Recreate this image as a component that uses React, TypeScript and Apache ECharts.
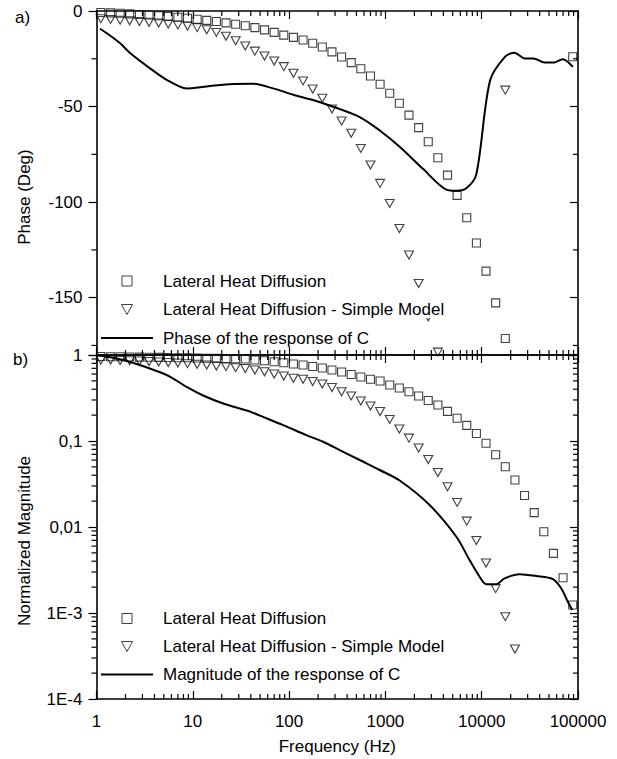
import React, { useEffect, useRef } from "react";
import * as echarts from "echarts";

// Frequencies (Hz) of the model points
const FREQ = [
  1.11, 1.4, 1.76, 2.21, 2.79, 3.51, 4.42, 5.56, 7.0, 8.81,
  11.09, 13.96, 17.58, 22.13, 27.86, 35.07, 44.15, 55.58, 69.98, 88.1,
  110.9, 139.6, 175.8, 221.3, 278.6, 350.7, 441.5, 555.8, 699.8, 881,
  1109, 1396, 1758, 2213, 2786, 3507, 4415, 5558, 6998, 8810,
  11090, 13960, 17580, 22130, 27860, 35070, 44150, 55580, 69980, 88100,
];

// a) Phase (deg)
const PHASE_LHD = [
  -0.8, -1.0, -1.2, -1.5, -1.8, -2.1, -2.5, -2.9, -3.3, -3.8,
  -4.3, -4.9, -5.5, -6.2, -6.9, -7.7, -8.7, -9.9, -11.2, -12.6,
  -13.8, -15.2, -16.9, -18.8, -21.4, -24.1, -27, -30.2, -34, -38.3,
  -43, -48.3, -54.5, -61, -68.4, -76.8, -85.9, -96.5, -108.2, -121.4,
  -136.1, -152.7, -171.4, null, null, null, null, null, null, -23.9,
];
const PHASE_SIMPLE = [
  -4.0, -4.4, -4.8, -5.1, -5.5, -5.9, -6.3, -6.8, -7.3, -7.9,
  -8.7, -9.8, -11.2, -13.2, -15.6, -18.3, -21.0, -23.6, -26.2, -29.1,
  -32.6, -36.6, -40.8, -45.7, -51.3, -57.6, -64, -71.9, -80.6, -90.2,
  -100.7, -113.8, -127.7, -142.6, -160, -178.5, null, null, null, null,
  null, null, -41.4, null, null, null, null, null, null, null,
];
const PHASE_C_FREQ = [
  1.09, 1.38, 1.75, 2.23, 3.59, 5.35, 8.63, 13.9, 26.1, 42, 68.2, 110, 177, 286, 541, 873,
  1406, 2455, 4295, 5456, 6918, 8790, 12190, 17500, 21900, 27900, 34500, 44900, 57000, 69500, 88300,
];
const PHASE_C = [
  -9.3, -12.8, -16.8, -22, -30, -36, -40.5, -39.5, -38.2, -38.1, -40.5, -43.8, -46.6, -50.1, -55.5, -62.5,
  -71, -82.6, -93.5, -94.1, -92.8, -85.5, -36.5, -23.9, -21.8, -24.8, -24.8, -27, -26.9, -25.2, -29.2,
];

// b) Normalized magnitude
const MAG_LHD = [
  0.961, 0.955, 0.953, 0.948, 0.945, 0.943, 0.938, 0.935, 0.93, 0.928,
  0.923, 0.918, 0.913, 0.908, 0.903, 0.899, 0.875, 0.858, 0.836, 0.814,
  0.786, 0.765, 0.735, 0.706, 0.669, 0.634, 0.593, 0.555, 0.522, 0.498,
  0.448, 0.413, 0.374, 0.334, 0.296, 0.262, 0.221, 0.184, 0.152, 0.122,
  0.094, 0.0693, 0.0502, 0.0352, 0.0232, 0.0147, 0.00882, 0.00494, 0.00257, 0.00124,
];
const MAG_SIMPLE = [
  0.875, 0.875, 0.863, 0.858, 0.852, 0.84, 0.829, 0.818, 0.807, 0.792,
  0.78, 0.765, 0.745, 0.731, 0.712, 0.697, 0.669, 0.639, 0.601, 0.57,
  0.536, 0.522, 0.492, 0.46, 0.419, 0.374, 0.334, 0.292, 0.255, 0.22,
  0.178, 0.138, 0.108, 0.0829, 0.0609, 0.043, 0.0294, 0.0193, 0.0117, 0.00697,
  0.00381, 0.00192, 0.000906, 0.000381, null, null, null, null, null, null,
];
const MAG_C_FREQ = [
  1, 1.62, 2.61, 4.21, 5.78, 8.63, 12.8, 20.7, 39.1, 49.7, 86.7, 151, 225, 336, 541, 873,
  1406, 2880, 5456, 7480, 9510, 11160, 14170, 17290, 24740, 36830, 54800, 66900, 78400, 87100,
];
const MAG_C = [
  1, 0.911, 0.786, 0.652, 0.562, 0.425, 0.338, 0.273, 0.22, 0.197, 0.153, 0.117, 0.098, 0.0785, 0.0601, 0.046,
  0.0347, 0.018, 0.0077, 0.00413, 0.00264, 0.00216, 0.00216, 0.00253, 0.00282, 0.00269, 0.00248, 0.00194, 0.00135, 0.00108,
];

// tick labels
const X_TICK_LABELS = ["1", "10", "100", "1000", "10000", "100000"];
const Y_LOG_LABELS = ["1E-4", "1E-3", "0,01", "0,1", "1"];

const NAME_LHD = "Lateral Heat Diffusion";
const NAME_SIMPLE = "Lateral Heat Diffusion - Simple Model";
const NAME_PHASE = "Phase of the response of C";
const NAME_MAG = "Magnitude of the response of C";

const FONT = "Liberation Sans, Arial, sans-serif";
const FS = 17;
const TRI = "path://M0,0L10,0L5,9Z";
const SQ = "path://M0,0L10,0L10,10L0,10Z";
const LINE_ICON = "path://M0,0L52,0L52,2L0,2Z";

function pairs(xs: number[], ys: (number | null)[]) {
  const out: number[][] = [];
  xs.forEach((x, i) => {
    const y = ys[i];
    if (y !== null && y !== undefined) out.push([x, y]);
  });
  return out;
}

const X_MINOR: number[] = [];
[1, 10, 100, 1000, 10000].forEach((d) => {
  for (let m = 2; m <= 9; m++) X_MINOR.push(d * m);
});
const Y_MINOR_LOG: number[] = [];
[1e-4, 1e-3, 1e-2, 1e-1].forEach((d) => {
  for (let m = 2; m <= 9; m++) Y_MINOR_LOG.push(d * m);
});
const Y_MINOR_LIN = [-25, -75, -125, -175];

const MINOR_LEN = 5;
const MAJOR_LEN = 8;

function tickSeries(xi: number, yi: number, data: number[][]) {
  return {
    type: "custom",
    xAxisIndex: xi,
    yAxisIndex: yi,
    silent: true,
    clip: false,
    z: 5,
    data,
    renderItem: (params: any, api: any) => {
      const p = api.coord([api.value(0), api.value(1)]);
      const k = api.value(2);
      let x2 = p[0];
      let y2 = p[1];
      if (k === 0) y2 = p[1] - MINOR_LEN;
      else if (k === 1) y2 = p[1] + MINOR_LEN;
      else x2 = p[0] - MINOR_LEN;
      return {
        type: "line",
        shape: { x1: p[0], y1: p[1], x2, y2 },
        style: { stroke: "#000", lineWidth: 1.2 },
      };
    },
  };
}

export default function App() {
  const ref = useRef<HTMLDivElement>(null);
  useEffect(() => {
    if (!ref.current) return;
    const chart = echarts.init(ref.current, null, { renderer: "svg" });
    const axisLine = { show: true, onZero: false, lineStyle: { color: "#000", width: 1.6 } };
    const tickIn = { show: true, inside: true, length: MAJOR_LEN, lineStyle: { color: "#000", width: 1.2 } };
    const tickOut = { show: true, inside: false, length: MAJOR_LEN, lineStyle: { color: "#000", width: 1.2 } };
    const lbl = { color: "#000", fontFamily: FONT, fontSize: FS };
    const xLog = { type: "log", logBase: 10, min: 1, max: 100000, splitLine: { show: false } };
    const symItem = { color: "rgba(0,0,0,0)", borderColor: "#111", borderWidth: 1 };
    const legendBase = {
      orient: "vertical",
      left: 96,
      itemWidth: 52,
      itemHeight: 10,
      selectedMode: false,
      textStyle: {
        color: "#000",
        fontFamily: FONT,
        fontSize: FS,
        backgroundColor: "#fff",
        padding: [0, 2, 0, 5],
      },
    };
    const scatterStyle = { color: "rgba(0,0,0,0)", borderColor: "#111", borderWidth: 1.1 };

    const option: any = {
      animation: false,
      backgroundColor: "#fff",
      grid: [
        { left: 96.5, top: 11, width: 481.5, height: 344 },
        { left: 96.5, top: 355, width: 481.5, height: 344 },
      ],
      xAxis: [
        { ...xLog, gridIndex: 0, position: "bottom", axisLine, axisTick: tickIn, axisLabel: { show: false } },
        { ...xLog, gridIndex: 0, position: "top", axisLine, axisTick: tickIn, axisLabel: { show: false } },
        {
          ...xLog,
          gridIndex: 1,
          position: "bottom",
          axisLine,
          axisTick: tickIn,
          axisLabel: {
            ...lbl,
            margin: 14,
            formatter: (v: number) => X_TICK_LABELS[Math.round(Math.log10(v))] ?? "",
          },
          name: "Frequency (Hz)",
          nameLocation: "middle",
          nameGap: 39,
          nameTextStyle: { ...lbl },
        },
        { ...xLog, gridIndex: 1, position: "top", axisLine, axisTick: tickIn, axisLabel: { show: false } },
      ],
      yAxis: [
        {
          type: "value",
          gridIndex: 0,
          position: "left",
          min: -180,
          max: 0,
          splitNumber: 4,
          splitLine: { show: false },
          axisLine,
          axisTick: tickOut,
          axisLabel: {
            ...lbl,
            margin: 14,
            formatter: (v: number) => (v <= -179 ? "" : String(v)),
          },
          name: "Phase (Deg)",
          nameLocation: "middle",
          nameRotate: 90,
          nameGap: 64,
          nameTextStyle: { ...lbl, padding: [0, 28, 0, 0] },
        },
        {
          type: "value",
          gridIndex: 0,
          position: "right",
          min: -180,
          max: 0,
          splitNumber: 4,
          splitLine: { show: false },
          axisLine,
          axisTick: tickIn,
          axisLabel: { show: false },
        },
        {
          type: "log",
          logBase: 10,
          gridIndex: 1,
          position: "left",
          min: 0.0001,
          max: 1,
          splitLine: { show: false },
          axisLine,
          axisTick: tickOut,
          axisLabel: {
            ...lbl,
            margin: 14,
            formatter: (v: number) => Y_LOG_LABELS[Math.round(Math.log10(v)) + 4] ?? "",
          },
          name: "Normalized Magnitude",
          nameLocation: "middle",
          nameRotate: 90,
          nameGap: 64,
          nameTextStyle: { ...lbl, padding: [0, 28, 0, 0] },
        },
        {
          type: "log",
          logBase: 10,
          gridIndex: 1,
          position: "right",
          min: 0.0001,
          max: 1,
          splitLine: { show: false },
          axisLine,
          axisTick: tickIn,
          axisLabel: { show: false },
        },
      ],
      legend: [
        {
          ...legendBase,
          top: 267.5,
          itemGap: 11.5,
          data: [
            { name: NAME_LHD, icon: SQ, itemStyle: symItem },
            { name: NAME_SIMPLE, icon: TRI, itemStyle: symItem },
            { name: NAME_PHASE, icon: LINE_ICON },
          ],
        },
        {
          ...legendBase,
          top: 605,
          itemGap: 11,
          data: [
            { name: NAME_LHD, icon: SQ, itemStyle: symItem },
            { name: NAME_SIMPLE, icon: TRI, itemStyle: symItem },
            { name: NAME_MAG, icon: LINE_ICON },
          ],
        },
      ],
      graphic: [
        { type: "text", left: 15, top: 9, style: { text: "a)", fill: "#000", font: `${FS}px ${FONT}` } },
        { type: "text", left: 13, top: 351, style: { text: "b)", fill: "#000", font: `${FS}px ${FONT}` } },
      ],
      series: [
        {
          name: NAME_LHD,
          type: "scatter",
          xAxisIndex: 0,
          yAxisIndex: 0,
          symbol: "rect",
          symbolSize: 8,
          itemStyle: scatterStyle,
          data: pairs(FREQ, PHASE_LHD),
        },
        {
          name: NAME_SIMPLE,
          type: "scatter",
          xAxisIndex: 0,
          yAxisIndex: 0,
          symbol: TRI,
          symbolSize: [9, 8],
          itemStyle: scatterStyle,
          data: pairs(FREQ, PHASE_SIMPLE),
        },
        {
          name: NAME_PHASE,
          type: "line",
          xAxisIndex: 0,
          yAxisIndex: 0,
          symbol: "none",
          showSymbol: false,
          smooth: 0.3,
          lineStyle: { color: "#000", width: 2 },
          itemStyle: { color: "#000" },
          data: pairs(PHASE_C_FREQ, PHASE_C),
        },
        {
          name: NAME_LHD,
          type: "scatter",
          xAxisIndex: 2,
          yAxisIndex: 2,
          symbol: "rect",
          symbolSize: 8,
          itemStyle: scatterStyle,
          data: pairs(FREQ, MAG_LHD),
        },
        {
          name: NAME_SIMPLE,
          type: "scatter",
          xAxisIndex: 2,
          yAxisIndex: 2,
          symbol: TRI,
          symbolSize: [9, 8],
          itemStyle: scatterStyle,
          data: pairs(FREQ, MAG_SIMPLE),
        },
        {
          name: NAME_MAG,
          type: "line",
          xAxisIndex: 2,
          yAxisIndex: 2,
          symbol: "none",
          showSymbol: false,
          smooth: 0.3,
          lineStyle: { color: "#000", width: 2 },
          itemStyle: { color: "#000" },
          data: pairs(MAG_C_FREQ, MAG_C),
        },
        tickSeries(0, 0, [
          ...X_MINOR.map((v) => [v, -180, 0]),
          ...X_MINOR.map((v) => [v, 0, 1]),
          ...Y_MINOR_LIN.map((v) => [1, v, 2]),
          ...Y_MINOR_LIN.map((v) => [100000, v, 3]),
        ]),
        tickSeries(2, 2, [
          ...X_MINOR.map((v) => [v, 0.0001, 0]),
          ...X_MINOR.map((v) => [v, 1, 1]),
          ...Y_MINOR_LOG.map((v) => [1, v, 2]),
          ...Y_MINOR_LOG.map((v) => [100000, v, 3]),
        ]),
      ],
    };
    chart.setOption(option);
    return () => chart.dispose();
  }, []);
  return (
    <div
      ref={ref}
      style={{ position: "fixed", left: 0, top: 0, width: 617, height: 759, background: "#fff" }}
    />
  );
}
